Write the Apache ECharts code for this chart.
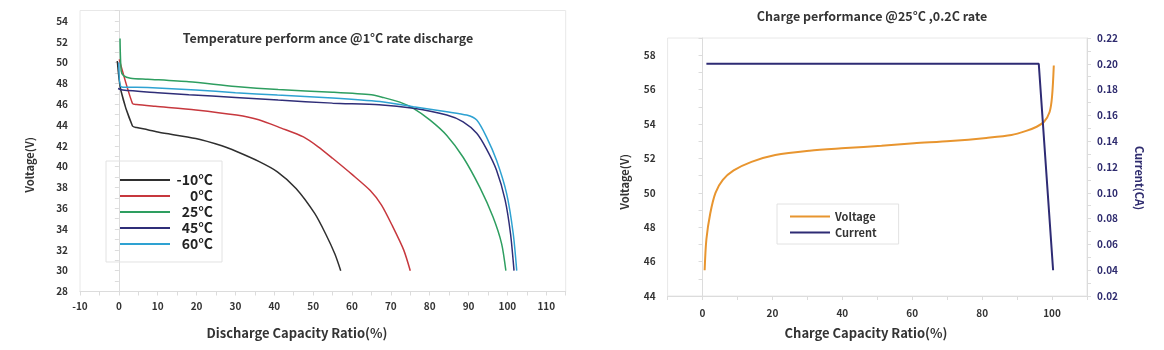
<!DOCTYPE html>
<html>
<head>
<meta charset="utf-8">
<script src="https://cdn.jsdelivr.net/npm/echarts@6/dist/echarts.min.js"></script>
<style>
  html, body { margin: 0; padding: 0; background: #fff; }
  #chart { width: 1164px; height: 350px; }
</style>
</head>
<body>
<div id="chart"></div>
<script>
// discharge curves, [capacity %, voltage V]
const minus10 = [[-0.4, 50.15], [0.5, 47.35], [3.5, 43.9], [4.6, 43.75], [7.4, 43.55], [10.3, 43.3], [19.8, 42.7], [26.5, 42.0], [30.3, 41.45], [36, 40.5], [40.8, 39.5], [45.6, 37.9], [50.4, 35.5], [53.2, 33.55], [55.6, 31.6], [57.1, 30.0]];
const zero = [[0.1, 50.3], [3.5, 46.07], [4.6, 45.97], [9.35, 45.8], [19.8, 45.45], [30.3, 44.95], [36, 44.5], [41.8, 43.7], [47.5, 42.85], [51.3, 41.9], [55, 40.8], [60, 39.25], [64.7, 37.7], [67.6, 36.3], [70.4, 34.3], [73.3, 32.0], [75, 30.0]];
const t25 = [[0.3, 52.3], [0.6, 49.2], [1.2, 48.75], [3, 48.5], [7.4, 48.4], [18, 48.15], [30, 47.7], [41, 47.4], [55, 47.15], [65, 46.9], [68, 46.65], [72.3, 46.2], [75.8, 45.6], [80.1, 44.47], [84.4, 43.0], [88.6, 40.9], [92.9, 38.0], [96.3, 35.15], [98.5, 32.6], [99.6, 30.0]];
const t45 = [[-0.2, 47.5], [1, 47.35], [10, 47.1], [18, 46.9], [30, 46.65], [41, 46.4], [55, 46.1], [67, 45.95], [75.8, 45.6], [84.4, 44.95], [88.6, 44.3], [92.1, 43.2], [94.6, 41.7], [97.2, 39.65], [99.4, 36.8], [100.8, 33.55], [101.7, 30.0]];
const t60 = [[0, 50.0], [0.7, 47.65], [7.4, 47.6], [19.8, 47.36], [30, 47.1], [40.8, 46.87], [55, 46.6], [67.2, 46.25], [75.8, 45.75], [84.4, 45.27], [89.5, 44.95], [92.1, 44.47], [94.6, 42.86], [97.2, 40.6], [99.8, 37.4], [101.5, 33.55], [102.4, 30.0]];
const tempNames = ['-10°C', '0°C', '25°C', '45°C', '60°C'];
const tempColors = ['#2f2f2f', '#c7383e', '#2e9e60', '#2f2e78', '#2ea2d2'];

// charge curve, [capacity %, voltage V] and [capacity %, current CA]
const chargeVoltage = [[0.6, 45.5], [1.1, 47.3], [2.2, 48.8], [3.7, 50.0], [5.8, 50.75], [8.9, 51.3], [14, 51.8], [20.8, 52.2], [30.6, 52.45], [40.9, 52.6], [51.2, 52.74], [60.5, 52.88], [70.9, 53.01], [81.2, 53.19], [88.4, 53.36], [92.6, 53.6], [95.6, 53.84], [97.7, 54.13], [99.3, 54.7], [100, 55.6], [100.5, 57.4]];
const chargeCurrent = [[1.1, 0.2], [96.2, 0.2], [100.3, 0.04]];

const font = 'Noto Sans CJK SC';
const axisGray = '#dcdcdc';
const labelDark = '#333';
const navy = '#2e2b6e';

const chart = echarts.init(document.getElementById('chart'));

const baseAxis = {
    axisLine: { show: true, lineStyle: { color: axisGray } },
    axisTick: { show: true, length: 4, lineStyle: { color: axisGray } },
    splitLine: { show: false },
    axisLabel: { color: labelDark, fontSize: 10, fontWeight: 'bold', fontFamily: font }
};

chart.setOption({
    animation: false,
    textStyle: { fontFamily: font },
    title: [
        { text: 'Temperature perform ance @1°C rate discharge', left: 323, top: 27, textAlign: 'center',
          textStyle: { fontSize: 12.5, fontWeight: 'bold', color: '#333', fontFamily: font } },
        { text: 'Charge performance @25°C ,0.2C rate', left: 867, top: 5, textAlign: 'center',
          textStyle: { fontSize: 12.5, fontWeight: 'bold', color: '#333', fontFamily: font } }
    ],
    grid: [
        { left: 80, top: 10.5, width: 485.7, height: 281, show: true, borderColor: '#e8e8e8', borderWidth: 1 },
        { left: 667.6, top: 38, width: 419.4, height: 258, show: true, borderColor: '#e8e8e8', borderWidth: 1 }
    ],
    xAxis: [
        Object.assign({}, baseAxis, {
            gridIndex: 0, type: 'value', min: -10, max: 115, interval: 10,
            minorTick: { show: true, splitNumber: 2, length: 4, lineStyle: { color: axisGray } },
            axisLabel: Object.assign({}, baseAxis.axisLabel, { showMaxLabel: false, margin: 10 })
        }),
        Object.assign({}, baseAxis, {
            gridIndex: 1, type: 'value', min: -10, max: 110, interval: 10,
            axisLabel: Object.assign({}, baseAxis.axisLabel, {
                margin: 12,
                formatter: v => (v >= 0 && v <= 100 && v % 20 === 0) ? String(v) : ''
            })
        })
    ],
    yAxis: [
        Object.assign({}, baseAxis, {
            gridIndex: 0, type: 'value', min: 28, max: 55, interval: 2,
            minorTick: { show: true, splitNumber: 2, length: 4, lineStyle: { color: axisGray } },
            axisLabel: Object.assign({}, baseAxis.axisLabel, { showMaxLabel: false, margin: 12 })
        }),
        Object.assign({}, baseAxis, {
            gridIndex: 1, type: 'value', min: 44, max: 59, interval: 2,
            minorTick: { show: true, splitNumber: 2, length: 4, lineStyle: { color: axisGray } },
            axisLabel: Object.assign({}, baseAxis.axisLabel, { showMaxLabel: false, margin: 12 })
        }),
        Object.assign({}, baseAxis, {
            gridIndex: 1, type: 'value', position: 'right', min: 0.02, max: 0.22, interval: 0.02,
            minorTick: { show: true, splitNumber: 2, length: 4, lineStyle: { color: axisGray } },
            axisLabel: Object.assign({}, baseAxis.axisLabel, {
                color: navy, margin: 10, formatter: v => v.toFixed(2)
            })
        })
    ],
    legend: [
        {
            data: tempNames, orient: 'vertical', left: 106, top: 161,
            padding: [12, 9, 11, 14], itemGap: 2, itemWidth: 50, itemHeight: 2, icon: 'rect',
            borderColor: '#e2e2e2', borderWidth: 1,
            formatter: n => '{a|' + n + '}',
            textStyle: {
                rich: { a: { width: 38, align: 'right', fontSize: 14, lineHeight: 15, fontWeight: 'bold', color: '#222', fontFamily: font } }
            }
        },
        {
            data: ['Voltage', 'Current'], orient: 'vertical', left: 777, top: 204,
            padding: [6, 22, 5, 13], itemGap: 3, itemWidth: 40, itemHeight: 2, icon: 'rect',
            borderColor: '#e2e2e2', borderWidth: 1,
            textStyle: { fontSize: 11, lineHeight: 13, fontWeight: 'bold', color: '#333', fontFamily: font }
        }
    ],
    graphic: [
        { type: 'text', x: 30, y: 165, rotation: Math.PI / 2,
          style: { text: 'Voltage(V)', fill: '#333', font: 'bold 11px "Noto Sans CJK SC"', align: 'center', verticalAlign: 'middle' } },
        { type: 'text', x: 297, y: 333,
          style: { text: 'Discharge Capacity Ratio(%)', fill: '#333', font: 'bold 13px "Noto Sans CJK SC"', align: 'center', verticalAlign: 'middle' } },
        { type: 'text', x: 625, y: 182, rotation: Math.PI / 2,
          style: { text: 'Voltage(V)', fill: '#333', font: 'bold 11px "Noto Sans CJK SC"', align: 'center', verticalAlign: 'middle' } },
        { type: 'text', x: 866, y: 333,
          style: { text: 'Charge Capacity Ratio(%)', fill: '#333', font: 'bold 13px "Noto Sans CJK SC"', align: 'center', verticalAlign: 'middle' } },
        { type: 'text', x: 1139, y: 178, rotation: -Math.PI / 2,
          style: { text: 'Current(CA)', fill: navy, font: 'bold 11px "Noto Sans CJK SC"', align: 'center', verticalAlign: 'middle' } }
    ],
    series: [minus10, zero, t25, t45, t60].map((d, i) => ({
        name: tempNames[i], type: 'line', xAxisIndex: 0, yAxisIndex: 0,
        data: d, showSymbol: false, smooth: 0.25,
        lineStyle: { width: 1.5, color: tempColors[i] }, itemStyle: { color: tempColors[i] }
    })).concat([
        { name: 'Voltage', type: 'line', xAxisIndex: 1, yAxisIndex: 1, data: chargeVoltage,
          showSymbol: false, smooth: 0.3,
          lineStyle: { width: 2, color: '#e8952f' }, itemStyle: { color: '#e8952f' } },
        { name: 'Current', type: 'line', xAxisIndex: 1, yAxisIndex: 2, data: chargeCurrent,
          showSymbol: false, lineStyle: { width: 2, color: '#2e2b74' }, itemStyle: { color: '#2e2b74' } }
    ])
});
</script>
</body>
</html>
